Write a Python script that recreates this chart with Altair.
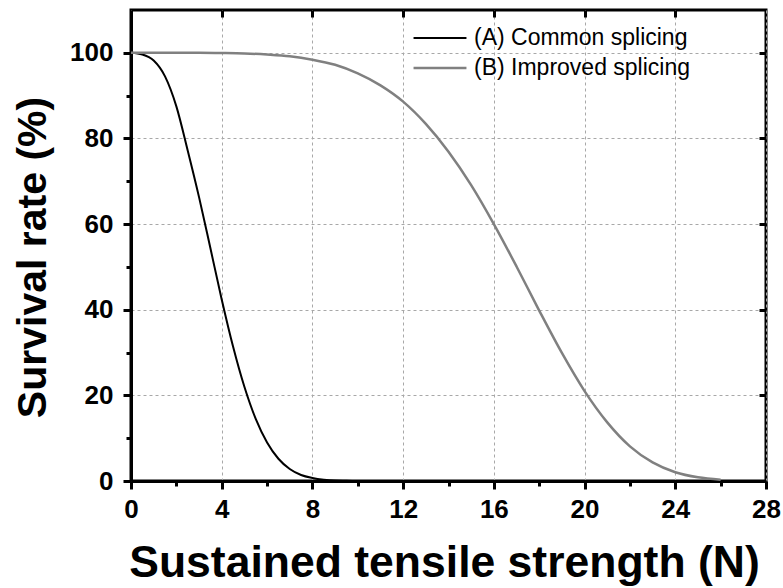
import altair as alt
import pandas as pd

# Survival curves for the two splicing methods
strength_a = [0, 0.5, 1, 1.5, 2, 2.5, 3, 3.5, 4, 4.5, 5, 5.5, 6, 6.5, 7, 7.5, 8, 8.5, 9, 9.5, 10]
survival_a = [100, 99.6, 98.2, 94.5, 87.5, 77.2, 66.3, 54.4, 42.4, 31.4, 22.0, 14.5, 9.0, 5.2,
              2.8, 1.4, 0.7, 0.3, 0.1, 0.05, 0.0]

strength_b = list(range(0, 27))
survival_b = [100, 100, 100, 100, 99.95, 99.85, 99.6, 99.2, 98.4, 97.2, 95.2, 92.4, 88.6, 83.4,
              76.9, 69.1, 60.0, 50.1, 39.8, 29.9, 21.0, 13.7, 8.1, 4.35, 2.05, 0.86, 0.31]

series_names = ["(A) Common splicing", "(B) Improved splicing"]
series_colors = ["#000000", "#808080"]
series_widths = [2.0, 2.5]

x_major = [0, 4, 8, 12, 16, 20, 24, 28]
x_minor = [2, 6, 10, 14, 18, 22, 26]
x_inner = [4, 8, 12, 16, 20, 24]
y_major = [0, 20, 40, 60, 80, 100]
y_minor = [10, 30, 50, 70, 90]
y_inner = [20, 40, 60, 80, 100]

W, H = 635, 471
FONT = "Liberation Sans"

df = pd.concat([
    pd.DataFrame({"x": strength_a, "y": survival_a, "s": series_names[0]}),
    pd.DataFrame({"x": strength_b, "y": survival_b, "s": series_names[1]}),
])

xs = alt.Scale(domain=[0, 28], nice=False, zero=False)
ys = alt.Scale(domain=[0, 110], nice=False, zero=False)

lines = alt.Chart(df).mark_line(interpolate="monotone").encode(
    x=alt.X("x:Q", scale=xs, axis=alt.Axis(
        values=x_major, orient="bottom", title="Sustained tensile strength (N)",
        tickSize=8, tickWidth=3, tickColor="black", domainWidth=3, domainColor="black",
        labelFont=FONT, labelFontSize=26, labelFontWeight="bold", labelColor="black",
        labelPadding=7, labelFlush=False,
        titleFont=FONT, titleFontSize=44.5, titleFontWeight="bold", titleColor="black",
        titleX=313, titleY=95, titleBaseline="alphabetic",
        grid=True, gridDash=[3, 3], gridColor="#a8a8a8", gridWidth=1)),
    y=alt.Y("y:Q", scale=ys, axis=alt.Axis(
        values=y_major, orient="left", title="Survival rate (%)",
        tickSize=8, tickWidth=3, tickColor="black", domainWidth=3, domainColor="black",
        labelFont=FONT, labelFontSize=26, labelFontWeight="bold", labelColor="black",
        labelPadding=10, labelFlush=False,
        titleFont=FONT, titleFontSize=41, titleFontWeight="bold", titleColor="black",
        titleX=-86, titleY=247, titleBaseline="alphabetic", titleAngle=-90,
        grid=True, gridDash=[3, 3], gridColor="#a8a8a8", gridWidth=1)),
    color=alt.Color("s:N", scale=alt.Scale(domain=series_names, range=series_colors),
                    legend=alt.Legend(
                        title=None, orient="none", legendX=281, legendY=13,
                        symbolType="stroke", symbolSize=2800, symbolStrokeWidth=2,
                        clipHeight=30, rowPadding=0,
                        labelFont=FONT, labelFontSize=23, labelColor="black",
                        labelLimit=0, labelOffset=6)),
    strokeWidth=alt.StrokeWidth("s:N", scale=alt.Scale(domain=series_names, range=series_widths),
                                legend=None),
)

# Minor ticks on the bottom and left axes
minor = alt.Chart(df).mark_point(opacity=0).encode(
    x=alt.X("x:Q", scale=xs, axis=alt.Axis(
        values=x_minor, orient="bottom", title=None, labels=False, domain=False, grid=False,
        tickSize=5, tickWidth=3, tickColor="black")),
    y=alt.Y("y:Q", scale=ys, axis=alt.Axis(
        values=y_minor, orient="left", title=None, labels=False, domain=False, grid=False,
        tickSize=5, tickWidth=3, tickColor="black")),
)

# Inward ticks along the top and right frame
inner = alt.Chart(df).mark_point(opacity=0).encode(
    x=alt.X("x:Q", scale=xs, axis=alt.Axis(
        values=x_inner, orient="bottom", offset=-H, title=None, labels=False, domain=False,
        grid=False, tickSize=7, tickWidth=3, tickColor="black")),
    y=alt.Y("y:Q", scale=ys, axis=alt.Axis(
        values=y_inner, orient="left", offset=-W, title=None, labels=False, domain=False,
        grid=False, tickSize=7, tickWidth=3, tickColor="black")),
)

chart = alt.layer(lines, minor, inner).resolve_axis(
    x="independent", y="independent"
).properties(
    width=W, height=H,
    autosize=alt.AutoSizeParams(type="none"),
    padding={"left": 131, "top": 10, "right": 17, "bottom": 107},
    background="white",
).configure_view(stroke="black", strokeWidth=3)

chart.save("out.html", embed_options={"renderer": "svg", "actions": False})
